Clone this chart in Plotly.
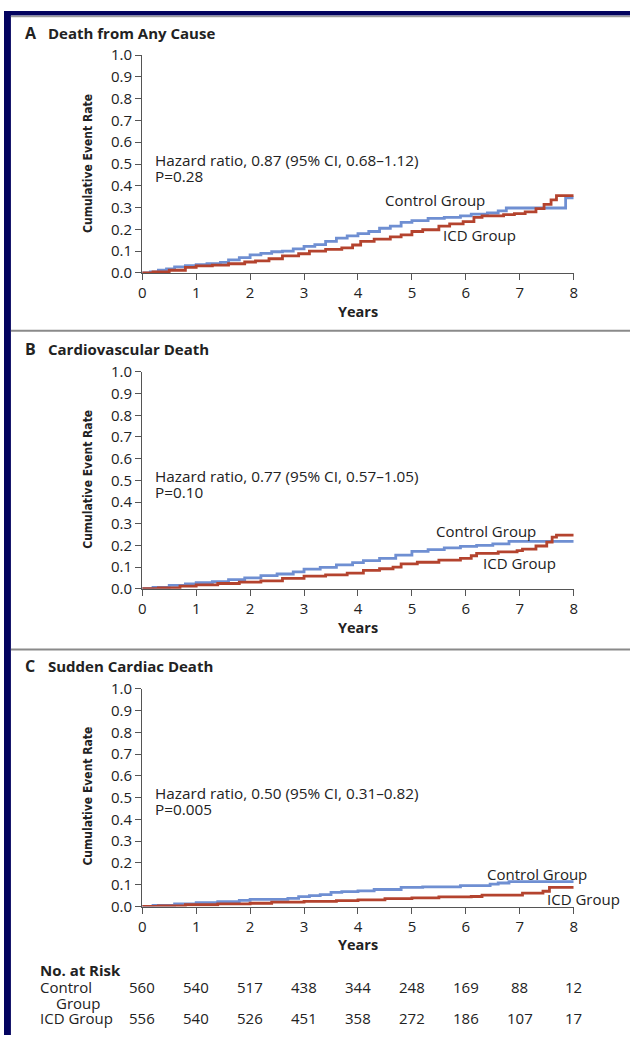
import plotly.graph_objects as go

W, H = 634, 1044

years = [0, 1, 2, 3, 4, 5, 6, 7, 8]
y_ticks = [0.0, 0.1, 0.2, 0.3, 0.4, 0.5, 0.6, 0.7, 0.8, 0.9, 1.0]

panel_letters = ["A", "B", "C"]
panel_titles = ["Death from Any Cause", "Cardiovascular Death", "Sudden Cardiac Death"]
hr_texts = ["Hazard ratio, 0.87 (95% CI, 0.68\u20131.12)",
            "Hazard ratio, 0.77 (95% CI, 0.57\u20131.05)",
            "Hazard ratio, 0.50 (95% CI, 0.31\u20130.82)"]
p_texts = ["P=0.28", "P=0.10", "P=0.005"]

# Panel A
a_ctrl_t = [0, 0.15, 0.3, 0.45, 0.6, 0.8, 1.0, 1.2, 1.45, 1.6, 1.8, 2.0, 2.2, 2.4, 2.6, 2.8, 3.0, 3.2, 3.4,
            3.6, 3.8, 4.0, 4.2, 4.4, 4.6, 4.8, 5.0, 5.3, 5.6, 5.9, 6.1, 6.4, 6.6, 6.75, 7.85, 8.0]
a_ctrl_v = [0, 0.005, 0.012, 0.018, 0.028, 0.033, 0.038, 0.042, 0.048, 0.06, 0.07, 0.083, 0.09, 0.097, 0.1,
            0.11, 0.122, 0.13, 0.145, 0.16, 0.17, 0.18, 0.19, 0.205, 0.215, 0.232, 0.24, 0.25, 0.255, 0.262,
            0.27, 0.275, 0.285, 0.298, 0.345, 0.345]
a_icd_t = [0, 0.2, 0.5, 0.8, 1.0, 1.3, 1.6, 1.9, 2.1, 2.35, 2.6, 2.9, 3.1, 3.4, 3.7, 3.9, 4.05, 4.3, 4.6, 4.8,
           5.0, 5.2, 5.5, 5.7, 5.95, 6.15, 6.3, 6.7, 6.9, 7.1, 7.3, 7.45, 7.58, 7.68, 8.0]
a_icd_v = [0, 0.004, 0.012, 0.025, 0.032, 0.036, 0.042, 0.05, 0.055, 0.065, 0.078, 0.088, 0.1, 0.108, 0.115,
           0.128, 0.145, 0.155, 0.165, 0.175, 0.19, 0.198, 0.215, 0.225, 0.235, 0.255, 0.262, 0.268, 0.272,
           0.28, 0.295, 0.315, 0.335, 0.355, 0.355]

# Panel B
b_ctrl_t = [0, 0.2, 0.5, 0.8, 1.0, 1.3, 1.6, 1.9, 2.2, 2.5, 2.8, 3.0, 3.3, 3.6, 3.9, 4.1, 4.4, 4.7, 5.0, 5.3,
            5.6, 5.9, 6.2, 6.5, 6.8, 8.0]
b_ctrl_v = [0, 0.006, 0.015, 0.022, 0.028, 0.033, 0.042, 0.05, 0.06, 0.068, 0.078, 0.09, 0.098, 0.11, 0.12,
            0.13, 0.14, 0.155, 0.172, 0.18, 0.188, 0.195, 0.2, 0.207, 0.218, 0.218]
b_icd_t = [0, 0.3, 0.7, 1.0, 1.4, 1.8, 2.2, 2.6, 3.0, 3.4, 3.8, 4.1, 4.4, 4.65, 4.8, 5.1, 5.5, 5.9, 6.1, 6.2,
           6.6, 6.95, 7.05, 7.3, 7.5, 7.6, 7.68, 8.0]
b_icd_v = [0, 0.004, 0.012, 0.018, 0.024, 0.03, 0.036, 0.048, 0.058, 0.064, 0.072, 0.085, 0.092, 0.1, 0.115,
           0.122, 0.132, 0.14, 0.152, 0.163, 0.17, 0.176, 0.183, 0.197, 0.215, 0.238, 0.247, 0.247]

# Panel C
c_ctrl_t = [0, 0.2, 0.6, 1.0, 1.4, 1.8, 2.0, 2.7, 2.9, 3.1, 3.3, 3.5, 3.7, 4.0, 4.3, 4.8, 5.2, 5.9, 6.45,
            6.6, 6.8, 8.0]
c_ctrl_v = [0, 0.005, 0.012, 0.018, 0.022, 0.028, 0.033, 0.037, 0.045, 0.05, 0.055, 0.065, 0.068, 0.072,
            0.078, 0.088, 0.09, 0.096, 0.103, 0.108, 0.114, 0.114]
c_icd_t = [0, 0.3, 0.8, 1.4, 2.0, 2.4, 3.0, 3.6, 4.0, 4.5, 5.0, 5.5, 6.1, 6.3, 7.05, 7.43, 7.55, 8.0]
c_icd_v = [0, 0.003, 0.008, 0.012, 0.015, 0.02, 0.024, 0.027, 0.03, 0.036, 0.04, 0.044, 0.046, 0.052,
           0.061, 0.07, 0.088, 0.088]

risk_control = [560, 540, 517, 438, 344, 248, 169, 88, 12]
risk_icd = [556, 540, 526, 451, 358, 272, 186, 107, 17]

BLUE = "#6f8fd2"
RED = "#b4432e"
TXT = "#222222"
AX = "#555555"
NAVY = "#03035f"
FONT = "Open Sans, Lato, sans-serif"
NARROW = "DejaVu Sans Condensed, Liberation Sans, sans-serif"
FS = 15


def px(x):
    return x / W


def py(y):
    return 1 - y / H


X0, X8 = 140, 577
panels = [
    dict(y0=267, y1=45, title=22, years=306, hr=152, ctrl=(437, 193), icd=(482, 228), ytitle=155),
    dict(y0=589, y1=368, title=345, years=629, hr=474, ctrl=(488, 530), icd=(522, 563), ytitle=477),
    dict(y0=913, y1=691, title=668, years=952, hr=797, ctrl=(540, 880), icd=(587, 905), ytitle=800),
]
series = [((a_ctrl_t, a_ctrl_v), (a_icd_t, a_icd_v)),
          ((b_ctrl_t, b_ctrl_v), (b_icd_t, b_icd_v)),
          ((c_ctrl_t, c_ctrl_v), (c_icd_t, c_icd_v))]

fig = go.Figure()
layout = dict(width=W, height=H, margin=dict(l=0, r=0, t=0, b=0), paper_bgcolor="white",
              plot_bgcolor="white", showlegend=False, font=dict(family=FONT, color=TXT, size=FS))
annotations = []
shapes = []


def ann(x, y, text, anchor="left", size=FS, family=FONT, xref="paper", **kw):
    d = dict(x=x, y=py(y), xref=xref, yref="paper", text=text, showarrow=False, xanchor=anchor,
             yanchor="middle", font=dict(size=size, family=family, color=TXT))
    d.update(kw)
    annotations.append(d)


for i, (p, (ctrl, icd)) in enumerate(zip(panels, series)):
    n = "" if i == 0 else str(i + 1)
    xa, ya = "x" + n, "y" + n
    fig.add_trace(go.Scatter(x=ctrl[0], y=ctrl[1], mode="lines", line=dict(color=BLUE, width=2.8, shape="hv"),
                             xaxis=xa, yaxis=ya))
    fig.add_trace(go.Scatter(x=icd[0], y=icd[1], mode="lines", line=dict(color=RED, width=2.8, shape="hv"),
                             xaxis=xa, yaxis=ya))
    layout["xaxis" + n] = dict(domain=[px(X0), px(X8)], range=[0, 8], anchor=ya, tickvals=years,
                               showline=True, linecolor=AX, linewidth=1.3, ticks="outside", ticklen=6,
                               tickcolor=AX, tickwidth=1.3, showgrid=False, zeroline=False,
                               tickfont=dict(size=FS, color=TXT, family=FONT), fixedrange=True)
    layout["yaxis" + n] = dict(domain=[py(p["y0"]), py(p["y1"])], range=[0, 1], anchor=xa, tickvals=y_ticks,
                               tickformat=".1f", showline=True, linecolor=AX, linewidth=1.3, ticks="outside",
                               ticklen=6, tickcolor=AX, tickwidth=1.3, showgrid=False, zeroline=False,
                               tickfont=dict(size=FS, color=TXT, family=FONT), fixedrange=True)
    ann(px(19), p["title"], "<b>%s</b>" % panel_letters[i], size=16)
    ann(px(43), p["title"], "<b>%s</b>" % panel_titles[i], size=15)
    ann(px((X0 + X8) / 2), p["years"], "<b>Years</b>", anchor="center", size=14.5)
    ann(px(85), p["ytitle"], "<b>Cumulative Event Rate</b>", anchor="center", size=12, family=NARROW,
        textangle=-90)
    ann(px(151), p["hr"], hr_texts[i], size=15.3)
    ann(px(151), p["hr"] + 16.5, p_texts[i], size=15.3)
    ann(px(p["ctrl"][0]), p["ctrl"][1], "Control Group", anchor="center", size=FS)
    ann(px(p["icd"][0]), p["icd"][1], "ICD Group", anchor="center", size=FS)

# risk table
ann(px(34), 978, "<b>No. at Risk</b>", size=FS)
ann(px(34), 995, "Control", size=FS)
ann(px(51), 1011, "Group", size=FS)
ann(px(34), 1027, "ICD Group", size=FS)
for yr, rc, ri in zip(years, risk_control, risk_icd):
    ann(yr, 995, str(rc), anchor="center", xref="x3")
    ann(yr, 1027, str(ri), anchor="center", xref="x3")

# frame: navy border top/left, gray separators
shapes.append(dict(type="rect", xref="paper", yref="paper", x0=0, x1=1, y0=py(4.5), y1=1,
                   fillcolor=NAVY, line=dict(width=0), layer="above"))
shapes.append(dict(type="rect", xref="paper", yref="paper", x0=0, x1=px(7), y0=0, y1=1,
                   fillcolor=NAVY, line=dict(width=0), layer="above"))
shapes.append(dict(type="line", xref="paper", yref="paper", x0=px(7), x1=1, y0=py(5.5), y1=py(5.5),
                   line=dict(color="#9a9a9a", width=1.5)))
for sy in (326, 651):
    shapes.append(dict(type="line", xref="paper", yref="paper", x0=px(7), x1=1, y0=py(sy), y1=py(sy),
                       line=dict(color="#8a8a8a", width=2)))

layout["annotations"] = annotations
layout["shapes"] = shapes
fig.update_layout(**layout)
fig.write_html("out.html", config={"displayModeBar": False},
               post_script="document.body.style.margin='0';document.body.style.overflow='hidden';")
